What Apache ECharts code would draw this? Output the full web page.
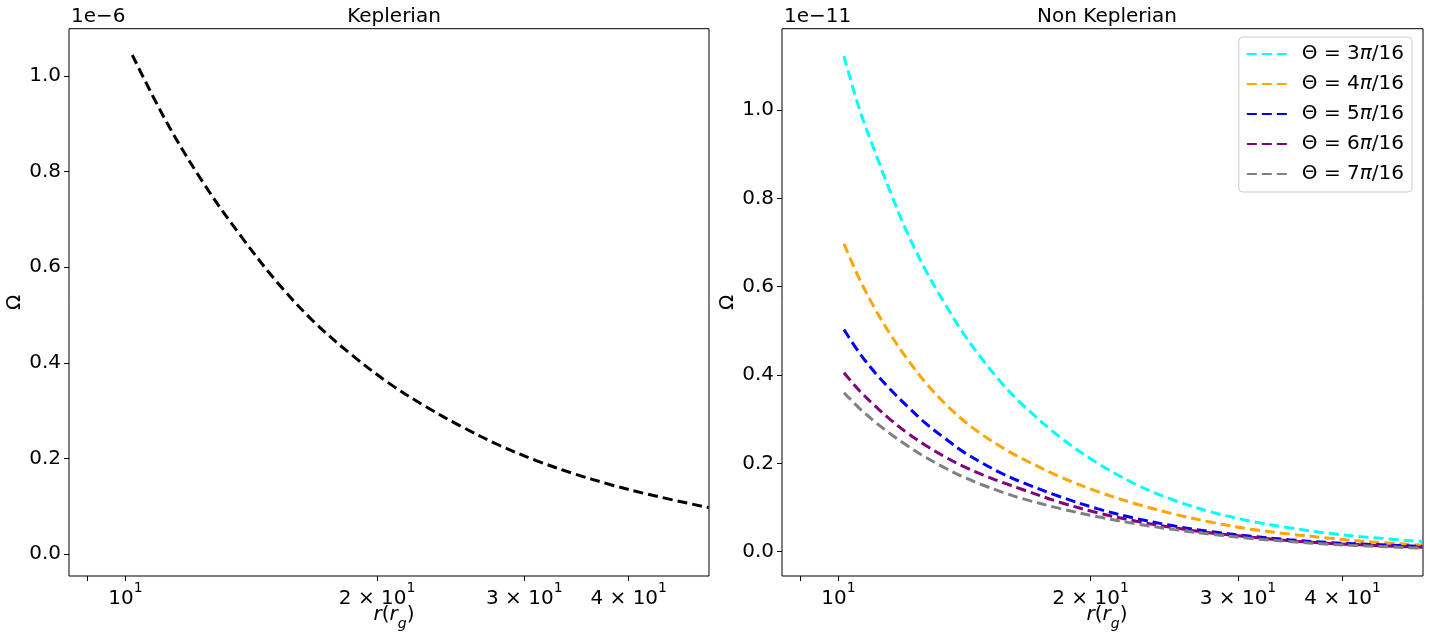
<!DOCTYPE html>
<html lang="en">
<head>
<meta charset="UTF-8">
<title>Keplerian / Non Keplerian</title>
<script src="https://cdn.jsdelivr.net/npm/echarts@6/dist/echarts.min.js"></script>
<style>
    html, body { margin: 0; padding: 0; background: #fff; }
    #chart { width: 1430px; height: 636px; }
</style>
</head>
<body>
<div id="chart"></div>
<script>
    // left panel: Keplerian, Omega in units of 1e-6
    var rKep = [10.19, 11.22, 12.43, 13.76, 15.23, 16.87, 18.67, 20.68, 22.89, 25.34, 28.05, 31.06, 34.39, 38.07, 42.16, 49.85];
    var omegaKep = [1.044, 0.901, 0.773, 0.664, 0.566, 0.483, 0.416, 0.357, 0.308, 0.265, 0.227, 0.195, 0.168, 0.145, 0.125, 0.097];

    // right panel: non Keplerian, Omega in units of 1e-11
    var rNon = [10.15, 10.6, 11.07, 11.55, 12.04, 12.70, 13.39, 14.10, 14.87, 15.68, 16.52, 18.37, 20.41, 22.68, 25.2, 27.99, 31.1, 34.56, 38.4, 42.7, 49.8];
    var omega3 = [1.122, 1.000, 0.902, 0.811, 0.728, 0.638, 0.562, 0.494, 0.434, 0.381, 0.336, 0.260, 0.200, 0.152, 0.116, 0.089, 0.069, 0.054, 0.042, 0.033, 0.023];
    var omega4 = [0.697, 0.616, 0.548, 0.490, 0.440, 0.383, 0.336, 0.297, 0.264, 0.236, 0.212, 0.170, 0.136, 0.108, 0.085, 0.066, 0.051, 0.040, 0.031, 0.023, 0.015];
    var omega5 = [0.503, 0.449, 0.404, 0.366, 0.332, 0.291, 0.257, 0.226, 0.200, 0.177, 0.158, 0.125, 0.097, 0.075, 0.058, 0.045, 0.035, 0.027, 0.021, 0.017, 0.012];
    var omega6 = [0.405, 0.364, 0.329, 0.298, 0.271, 0.241, 0.215, 0.193, 0.174, 0.157, 0.142, 0.112, 0.088, 0.069, 0.054, 0.042, 0.033, 0.025, 0.019, 0.015, 0.010];
    var omega7 = [0.360, 0.324, 0.293, 0.266, 0.242, 0.214, 0.190, 0.169, 0.151, 0.135, 0.121, 0.098, 0.079, 0.063, 0.050, 0.039, 0.030, 0.023, 0.017, 0.013, 0.008];

    var thetaNames = ['Θ = 3π/16', 'Θ = 4π/16', 'Θ = 5π/16', 'Θ = 6π/16', 'Θ = 7π/16'];
    var thetaColors = ['#00ffff', '#ffa500', '#0000ff', '#800080', '#808080'];

    var xTicks = [10, 20, 30, 40];
    var xMinorTicks = [9, 10, 20, 30, 40];
    var yTicks = [0, 0.2, 0.4, 0.6, 0.8, 1.0];

    var FONT = 'DejaVu Sans';
    var FS = 20;

    function pairs(xs, ys) {
        return xs.map(function (x, i) { return [x, ys[i]]; });
    }

    function xLabel(v) {
        var m = Math.round(v / 10);
        if (m === 1) return '{b|10}{s|1}';
        return '{b|' + m + ' × 10}{s|1}';
    }

    var richTick = {
        b: { fontSize: FS, fontFamily: FONT, color: '#000', lineHeight: 28, verticalAlign: 'bottom' },
        s: { fontSize: 14, fontFamily: FONT, color: '#000', lineHeight: 15, verticalAlign: 'top' }
    };

    // x axis title r(r_g), drawn as a title so it sits at a fixed spot
    var richName = {
        i: { fontSize: FS, fontFamily: FONT, fontStyle: 'italic', fontWeight: 'normal', color: '#000', lineHeight: 26, verticalAlign: 'top' },
        n: { fontSize: FS, fontFamily: FONT, fontWeight: 'normal', color: '#000', lineHeight: 26, verticalAlign: 'top' },
        g: { fontSize: 14, fontFamily: FONT, fontStyle: 'italic', fontWeight: 'normal', color: '#000', lineHeight: 26, verticalAlign: 'bottom' }
    };
    var xName = '{i|r}{n|(}{i|r}{g|g}{n|)}';

    function makeX(idx, minV, maxV) {
        return {
            type: 'log',
            logBase: 10,
            gridIndex: idx,
            min: minV,
            max: maxV,
            axisLine: { show: false, onZero: false },
            splitLine: { show: false },
            minorTick: { show: false },
            axisTick: { show: true, length: 5, customValues: xMinorTicks, lineStyle: { color: '#000', width: 1 } },
            axisLabel: {
                margin: 5,
                customValues: xTicks,
                formatter: function (v) { return xLabel(v); },
                rich: richTick
            }
        };
    }

    function makeY(idx, minV, maxV, gap) {
        return {
            type: 'value',
            gridIndex: idx,
            min: minV,
            max: maxV,
            name: 'Ω',
            nameLocation: 'middle',
            nameRotate: 90,
            nameGap: gap,
            nameTextStyle: { fontSize: FS, fontFamily: FONT, color: '#000' },
            axisLine: { show: false, onZero: false },
            splitLine: { show: false },
            axisTick: { show: true, length: 5, customValues: yTicks, lineStyle: { color: '#000', width: 1 } },
            axisLabel: {
                margin: 8,
                fontSize: FS,
                fontFamily: FONT,
                color: '#000',
                customValues: yTicks,
                formatter: function (v) { return v.toFixed(1); }
            }
        };
    }

    var thetaData = [omega3, omega4, omega5, omega6, omega7];

    var series = [{
        name: 'Keplerian',
        type: 'line',
        xAxisIndex: 0,
        yAxisIndex: 0,
        smooth: 0.35,
        symbol: 'none',
        lineStyle: { color: '#000', width: 3, type: [10, 5] },
        data: pairs(rKep, omegaKep)
    }];
    thetaNames.forEach(function (name, i) {
        series.push({
            name: name,
            type: 'line',
            xAxisIndex: 1,
            yAxisIndex: 1,
            smooth: 0.35,
            symbol: 'none',
            itemStyle: { color: thetaColors[i] },
            lineStyle: { color: thetaColors[i], width: 3, type: [10, 5] },
            data: pairs(rNon, thetaData[i])
        });
    });

    var titleStyle = { fontSize: FS, fontWeight: 'normal', fontFamily: FONT, color: '#000' };
    var nameStyle = { fontSize: FS, fontWeight: 'normal', fontFamily: FONT, color: '#000', rich: richName };

    var chart = echarts.init(document.getElementById('chart'));
    chart.setOption({
        animation: false,
        backgroundColor: '#fff',
        title: [
            { text: 'Keplerian', left: 389, top: 2, textAlign: 'center', textStyle: titleStyle },
            { text: 'Non Keplerian', left: 1102, top: 2, textAlign: 'center', textStyle: titleStyle },
            { text: '1e\u22126', left: 66, top: 2, textStyle: titleStyle },
            { text: '1e\u221211', left: 779, top: 2, textStyle: titleStyle },
            { text: xName, left: 389, top: 600, textAlign: 'center', textStyle: nameStyle },
            { text: xName, left: 1102, top: 600, textAlign: 'center', textStyle: nameStyle }
        ],
        legend: {
            data: thetaNames,
            orient: 'vertical',
            right: 18,
            top: 37,
            padding: [7, 8, 8, 7],
            itemGap: 10,
            itemWidth: 40,
            itemHeight: 20,
            backgroundColor: 'rgba(255,255,255,0.8)',
            borderColor: '#cccccc',
            borderWidth: 1,
            borderRadius: 4,
            itemStyle: { opacity: 0 },
            formatter: function (name) { return name.replace('π', '{i|π}'); },
            textStyle: {
                fontSize: FS,
                fontFamily: FONT,
                color: '#000',
                padding: [0, 0, 0, 10],
                rich: {
                    i: { fontSize: FS, fontFamily: FONT, fontStyle: 'italic', color: '#000' }
                }
            }
        },
        grid: [
            { left: 69, top: 28.7, width: 640, height: 547.3, outerBoundsMode: 'none', show: true, borderColor: '#000', borderWidth: 1, backgroundColor: 'transparent' },
            { left: 782, top: 28.7, width: 641, height: 547.3, outerBoundsMode: 'none', show: true, borderColor: '#000', borderWidth: 1, backgroundColor: 'transparent' }
        ],
        xAxis: [makeX(0, 8.56, 49.9), makeX(1, 8.56, 49.9)],
        yAxis: [makeY(0, -0.046, 1.099, 44), makeY(1, -0.055, 1.184, 40)],
        series: series
    });
</script>
</body>
</html>
